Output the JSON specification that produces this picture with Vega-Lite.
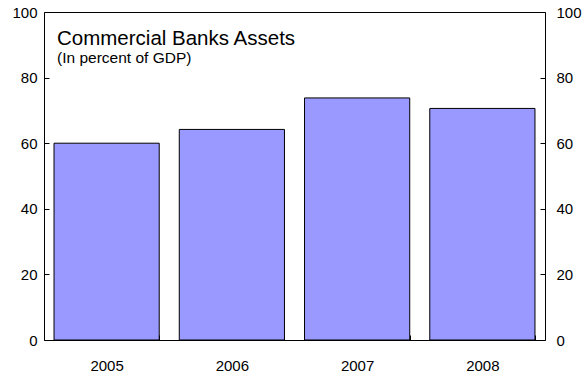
{
  "$schema": "https://vega.github.io/schema/vega-lite/v6.json",
  "autosize": {"type": "none"},
  "padding": {"left": 44, "top": 12, "right": 40, "bottom": 37},
  "width": 501,
  "height": 328,
  "background": "white",
  "config": {
    "font": "Liberation Sans",
    "view": {"stroke": "black", "strokeWidth": 1}
  },
  "title": {
    "text": "Commercial Banks Assets",
    "subtitle": "(In percent of GDP)",
    "anchor": "start",
    "frame": "group",
    "orient": "top",
    "baseline": "top",
    "dx": 13,
    "dy": 31,
    "offset": -30,
    "fontSize": 20.5,
    "fontWeight": "normal",
    "color": "black",
    "subtitleFontSize": 15.5,
    "subtitleColor": "black",
    "subtitlePadding": 1,
    "font": "Liberation Sans",
    "subtitleFont": "Liberation Sans"
  },
  "data": {
    "values": [
      {"year": "2005", "value": 60.0},
      {"year": "2006", "value": 64.2},
      {"year": "2007", "value": 73.8},
      {"year": "2008", "value": 70.6}
    ]
  },
  "encoding": {
    "x": {
      "field": "year",
      "type": "nominal",
      "scale": {"paddingInner": 0.16, "paddingOuter": 0.08},
      "axis": {
        "title": null,
        "labelAngle": 0,
        "labelFontSize": 15,
        "labelColor": "black",
        "domain": false,
        "tickBand": "extent",
        "tickSize": -5,
        "tickColor": "black",
        "labelPadding": 23
      }
    }
  },
  "layer": [
    {
      "mark": {"type": "bar", "color": "#9999FF", "stroke": "black", "strokeWidth": 1},
      "encoding": {
        "y": {
          "field": "value",
          "type": "quantitative",
          "scale": {"domain": [0, 100]},
          "axis": {
            "title": null,
            "orient": "left",
            "values": [0, 20, 40, 60, 80, 100],
            "grid": false,
            "domain": false,
            "tickSize": -5,
            "tickColor": "black",
            "labelFontSize": 15,
            "labelColor": "black",
            "labelPadding": 12
          }
        }
      }
    },
    {
      "mark": {"type": "bar", "opacity": 0},
      "encoding": {
        "y": {
          "field": "value",
          "type": "quantitative",
          "scale": {"domain": [0, 100]},
          "axis": {
            "title": null,
            "orient": "right",
            "values": [0, 20, 40, 60, 80, 100],
            "grid": false,
            "domain": false,
            "tickSize": -5,
            "tickColor": "black",
            "labelFontSize": 15,
            "labelColor": "black",
            "labelPadding": 16
          }
        }
      }
    }
  ],
  "resolve": {"axis": {"y": "independent"}}
}
